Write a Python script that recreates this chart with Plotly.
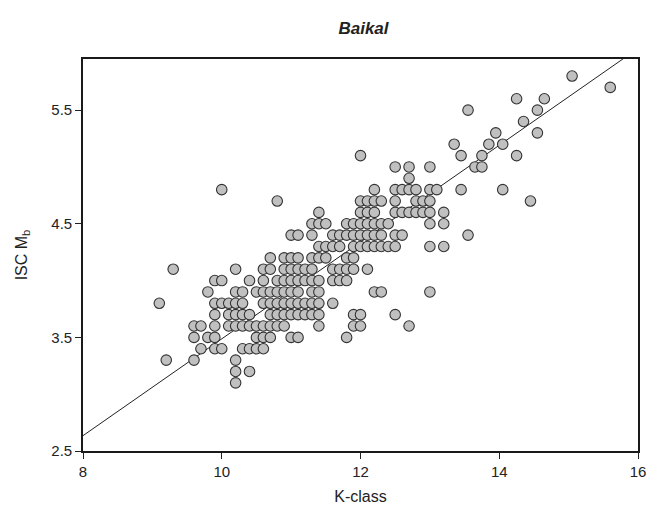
import plotly.graph_objects as go

# ISC mb rows (y values) and the K-class values (x) of the points in each row
mb_levels = [3.1, 3.2, 3.3, 3.4, 3.5, 3.6, 3.7, 3.8, 3.9, 4.0, 4.1, 4.2, 4.3,
             4.4, 4.5, 4.6, 4.7, 4.8, 4.9, 5.0, 5.1, 5.2, 5.3, 5.4, 5.5, 5.6,
             5.7, 5.8]
k_by_level = [
    [10.2],
    [10.2, 10.4],
    [9.2, 9.6, 10.2],
    [9.7, 9.9, 10.0, 10.3, 10.4, 10.5, 10.6],
    [9.6, 9.8, 9.9, 10.5, 10.6, 10.7, 11.0, 11.1, 11.8],
    [9.6, 9.7, 9.9, 10.1, 10.2, 10.3, 10.4, 10.5, 10.6, 10.7, 10.8, 10.9, 11.4, 11.9, 12.0, 12.7],
    [9.9, 10.1, 10.2, 10.3, 10.4, 10.7, 10.8, 10.9, 11.0, 11.1, 11.2, 11.3, 11.4, 11.9, 12.0, 12.5],
    [9.1, 9.9, 10.0, 10.1, 10.2, 10.3, 10.6, 10.7, 10.8, 10.9, 11.0, 11.1, 11.2, 11.3, 11.4, 11.6],
    [9.8, 10.2, 10.3, 10.5, 10.6, 10.7, 10.8, 10.9, 11.0, 11.1, 11.3, 11.4, 12.2, 12.3, 13.0],
    [9.9, 10.0, 10.4, 10.6, 10.8, 10.9, 11.0, 11.1, 11.2, 11.3, 11.4, 11.6, 11.7, 11.8],
    [9.3, 10.2, 10.6, 10.7, 10.9, 11.0, 11.1, 11.2, 11.3, 11.6, 11.7, 11.8, 11.9, 12.1],
    [10.7, 10.9, 11.0, 11.1, 11.3, 11.4, 11.5, 11.8, 11.9],
    [11.4, 11.5, 11.6, 11.7, 11.9, 12.0, 12.1, 12.2, 12.3, 12.4, 12.5, 13.0, 13.2],
    [11.0, 11.1, 11.3, 11.6, 11.7, 11.8, 11.9, 12.0, 12.1, 12.2, 12.3, 12.5, 12.6, 13.55],
    [11.3, 11.4, 11.5, 11.8, 11.9, 12.0, 12.1, 12.2, 12.3, 12.4, 13.0, 13.2],
    [11.4, 12.0, 12.1, 12.2, 12.5, 12.6, 12.7, 12.8, 12.9, 13.0, 13.2],
    [10.8, 12.0, 12.1, 12.2, 12.3, 12.5, 12.8, 12.9, 13.0, 14.45],
    [10.0, 12.2, 12.5, 12.6, 12.7, 12.8, 13.0, 13.1, 13.45, 14.05],
    [12.7],
    [12.5, 12.7, 13.0, 13.65, 13.75],
    [12.0, 13.45, 13.75, 14.25],
    [13.35, 13.85, 14.05],
    [13.95, 14.55],
    [14.35],
    [13.55, 14.55],
    [14.25, 14.65],
    [15.6],
    [15.05],
]

k_class = [k for ks in k_by_level for k in ks]
isc_mb = [m for m, ks in zip(mb_levels, k_by_level) for _ in ks]

# regression line
slope = 0.426
intercept = -0.773
line_x = [8, 16]
line_y = [intercept + slope * v for v in line_x]

x_ticks = [8, 10, 12, 14, 16]
y_ticks = [2.5, 3.5, 4.5, 5.5]

fig = go.Figure()
fig.add_trace(go.Scatter(
    x=line_x, y=line_y, mode="lines",
    line=dict(color="#222222", width=1), hoverinfo="skip", showlegend=False))
fig.add_trace(go.Scatter(
    x=k_class, y=isc_mb, mode="markers",
    marker=dict(size=10.5, color="#c0c0c0", line=dict(color="#333333", width=1.1)),
    showlegend=False, cliponaxis=False))

font_family = "Liberation Sans, Arial, sans-serif"
fig.update_layout(
    width=658, height=516,
    margin=dict(l=83, r=14, t=59, b=65),
    paper_bgcolor="white", plot_bgcolor="white",
    font=dict(family=font_family, size=14, color="#222222"),
    title=dict(text="<b><i>Baikal</i></b>", x=(83 + 644) / 2 / 658, xanchor="center",
               y=1 - 28 / 516, yanchor="middle",
               font=dict(size=17, family=font_family, color="#222222")),
)
fig.update_xaxes(
    range=[8, 16], tickvals=x_ticks, ticktext=[str(v) for v in x_ticks],
    ticks="outside", ticklen=6, tickwidth=1, tickcolor="#222222",
    showline=True, linecolor="#1a1a1a", linewidth=1.6, mirror=True,
    showgrid=False, zeroline=False,
    tickfont=dict(size=15),
    title=dict(text="K-class", font=dict(size=16), standoff=12),
)
fig.update_yaxes(
    range=[2.5, 5.95], tickvals=y_ticks, ticktext=[f"{v:.1f}" for v in y_ticks],
    ticks="outside", ticklen=6, tickwidth=1, tickcolor="#222222",
    showline=True, linecolor="#1a1a1a", linewidth=1.6, mirror=True,
    showgrid=False, zeroline=False,
    tickfont=dict(size=15),
    title=dict(text="ISC M<sub>b</sub>", font=dict(size=16), standoff=20),
)

fig.write_html("out.html")
